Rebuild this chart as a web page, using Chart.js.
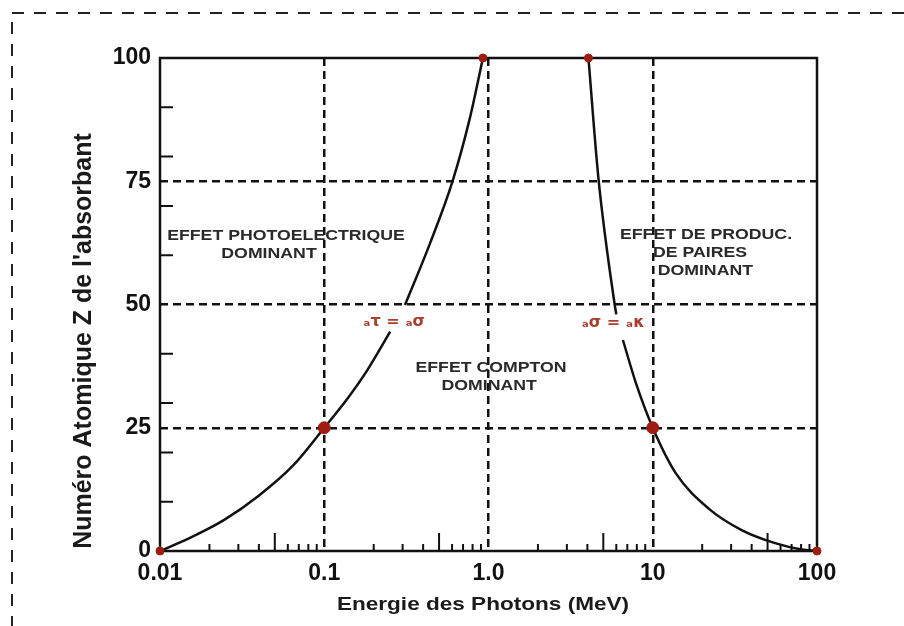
<!DOCTYPE html>
<html>
<head>
<meta charset="utf-8">
<script src="https://cdn.jsdelivr.net/npm/chart.js@4/dist/chart.umd.min.js"></script>
<style>
  html, body { margin: 0; padding: 0; background: #fff; }
  #wrap { position: relative; width: 904px; height: 626px; }
</style>
</head>
<body>
<div id="wrap"><canvas id="chart" width="904" height="626"></canvas></div>
<script>
// τ = σ boundary (photoelectric / Compton), null = gap next to the label
const photoEnergy = [0.01, 0.0151, 0.0246, 0.0399, 0.0649, 0.1, 0.139, 0.183, 0.252, 0.28, 0.31, 0.437, 0.603, 0.77, 0.925];
const photoZ      = [0,    2.6,    6.3,    11.2,   17.4,   25,  31,    36.7,  44.5,  null, 49.9, 62.1,  74.9,  87.8, 100];

// σ = κ boundary (Compton / pair production)
const pairEnergy = [4.06, 4.67, 5.87, 6.0, 6.3,  6.58, 7.91, 10, 13.8, 21.9, 35,  55.6, 80.7, 100];
const pairZ      = [100,  75.6, 49.9, 48,  null, 42.8, 34,   25, 15.8, 8.6,  4.2, 1.6,  0.3,  0];

// red markers
const markerEnergy = [0.01, 0.1, 0.925, 4.06, 10, 100];
const markerZ      = [0,    25,  100,   100,  25, 0];
const markerSize   = [4,    6,   4,     4,    6,  4];

const xTickValues = [0.01, 0.1, 1, 10, 100];
const xTickLabels = ["0.01", "0.1", "1.0", "10", "100"];
const yMinorTicks = [10, 20, 30, 40, 60, 70, 80, 90];

const xTitle = "Energie des Photons (MeV)";
const yTitle = "Numéro Atomique Z de l'absorbant";

// text inside the plot, placed in data coordinates
const notes = [
  { text: "EFFET PHOTOELECTRIQUE", e: 0.0585, z: 63.9 },
  { text: "DOMINANT",              e: 0.0461, z: 60.2 },
  { text: "EFFET COMPTON",         e: 1.036,  z: 37.1 },
  { text: "DOMINANT",              e: 1.01,   z: 33.5 },
  { text: "EFFET DE PRODUC.",      e: 21.1,   z: 64.1 },
  { text: "DE PAIRES",             e: 19.4,   z: 60.4 },
  { text: "DOMINANT",              e: 20.9,   z: 56.8 },
  { text: "ₐτ = ₐσ",               e: 0.266,  z: 46.5, sym: true },
  { text: "ₐσ = ₐκ",               e: 5.73,   z: 46.2, sym: true },
];

const toPoints = (xs, ys) => xs.map((x, i) => ({ x: x, y: ys[i] }));

const ink = "#111";
const red = "#a01c12";
const noteInk = "#2a2a2a";
const symInk = "#a8402f";
const sans = "'Liberation Sans', Arial, sans-serif";

// text drawn a little wider than the font, like the scanned figure
function wideText(ctx, text, x, y, sx) {
  ctx.save();
  ctx.translate(x, y);
  ctx.scale(sx, 1);
  ctx.fillText(text, 0, 0);
  ctx.restore();
}

const extras = {
  id: "extras",
  beforeDraw(chart) {
    const ctx = chart.ctx;
    ctx.save();
    ctx.strokeStyle = "#222";
    ctx.lineWidth = 2;
    ctx.setLineDash([12, 10]);
    ctx.beginPath();
    ctx.moveTo(12, 13);
    ctx.lineTo(904, 13);
    ctx.moveTo(12, 22);
    ctx.lineTo(12, 626);
    ctx.stroke();
    ctx.restore();
  },
  beforeDatasetsDraw(chart) {
    const ctx = chart.ctx;
    const a = chart.chartArea;
    const xs = chart.scales.x, ys = chart.scales.y;
    ctx.save();
    ctx.strokeStyle = ink;
    ctx.lineWidth = 2;
    // log minor ticks on the energy axis
    ctx.beginPath();
    for (let d = 0.01; d < 100; d *= 10) {
      for (let m = 2; m <= 9; m++) {
        const px = xs.getPixelForValue(d * m);
        const len = m === 5 ? 18 : 7;
        ctx.moveTo(px, a.bottom);
        ctx.lineTo(px, a.bottom - len);
      }
    }
    // minor ticks on Z axis
    yMinorTicks.forEach(v => {
      const py = ys.getPixelForValue(v);
      ctx.moveTo(a.left, py);
      ctx.lineTo(a.left + 13, py);
    });
    ctx.stroke();
    // frame
    ctx.lineWidth = 2.5;
    ctx.strokeRect(a.left, a.top, a.right - a.left, a.bottom - a.top);
    ctx.restore();
  },
  afterDraw(chart) {
    const ctx = chart.ctx;
    const xs = chart.scales.x, ys = chart.scales.y;
    ctx.save();
    ctx.textAlign = "center";
    ctx.textBaseline = "middle";
    notes.forEach(n => {
      const px = xs.getPixelForValue(n.e), py = ys.getPixelForValue(n.z);
      if (n.sym) {
        ctx.fillStyle = symInk;
        ctx.font = "bold 16px 'DejaVu Sans'";
        ctx.fillText(n.text, px, py);
      } else {
        ctx.fillStyle = noteInk;
        ctx.font = "bold 15px " + sans;
        wideText(ctx, n.text, px, py, 1.18);
      }
    });
    // axis titles
    ctx.fillStyle = "#1a1a1a";
    ctx.font = "bold 18.5px " + sans;
    wideText(ctx, xTitle, 483, 605, 1.22);
    ctx.font = "bold 25px " + sans;
    ctx.translate(84, 341);
    ctx.rotate(-Math.PI / 2);
    ctx.fillText(yTitle, 0, 0);
    ctx.restore();
  }
};

new Chart(document.getElementById("chart"), {
  type: "scatter",
  data: {
    datasets: [
      {
        label: "markers",
        data: toPoints(markerEnergy, markerZ),
        backgroundColor: red,
        borderColor: red,
        pointRadius: markerSize,
        clip: false,
      },
      {
        label: "tau = sigma",
        data: toPoints(photoEnergy, photoZ),
        showLine: true,
        borderColor: ink,
        borderWidth: 2.5,
        pointRadius: 0,
        cubicInterpolationMode: "monotone",
        spanGaps: false,
      },
      {
        label: "sigma = kappa",
        data: toPoints(pairEnergy, pairZ),
        showLine: true,
        borderColor: ink,
        borderWidth: 2.5,
        pointRadius: 0,
        cubicInterpolationMode: "monotone",
        spanGaps: false,
      },
    ],
  },
  options: {
    responsive: false,
    animation: false,
    devicePixelRatio: 1,
    layout: { padding: { left: 100, right: 87, top: 58, bottom: 33 } },
    plugins: { legend: { display: false }, tooltip: { enabled: false } },
    scales: {
      x: {
        type: "logarithmic",
        min: 0.01,
        max: 100,
        afterBuildTicks: (s) => { s.ticks = xTickValues.map(v => ({ value: v })); },
        afterFit: (s) => { s.height = 42; },
        ticks: {
          autoSkip: false,
          maxRotation: 0,
          padding: 9,
          color: ink,
          font: { family: sans, size: 23, weight: "bold" },
          callback: (v) => xTickLabels[xTickValues.indexOf(v)] ?? "",
        },
        grid: {
          drawTicks: false,
          lineWidth: 2.5,
          color: (c) => (c.tick && (c.tick.value === 0.01 || c.tick.value === 100)) ? "rgba(0,0,0,0)" : ink,
        },
        border: { display: false, dash: [8, 5] },
      },
      y: {
        min: 0,
        max: 100,
        afterFit: (s) => { s.width = 60; },
        ticks: {
          stepSize: 25,
          padding: 9,
          color: ink,
          font: { family: sans, size: 23, weight: "bold" },
        },
        grid: {
          drawTicks: false,
          lineWidth: 2.5,
          color: (c) => (c.tick && (c.tick.value === 0 || c.tick.value === 100)) ? "rgba(0,0,0,0)" : ink,
        },
        border: { display: false, dash: [8, 5] },
      },
    },
  },
  plugins: [extras],
});
</script>
</body>
</html>
